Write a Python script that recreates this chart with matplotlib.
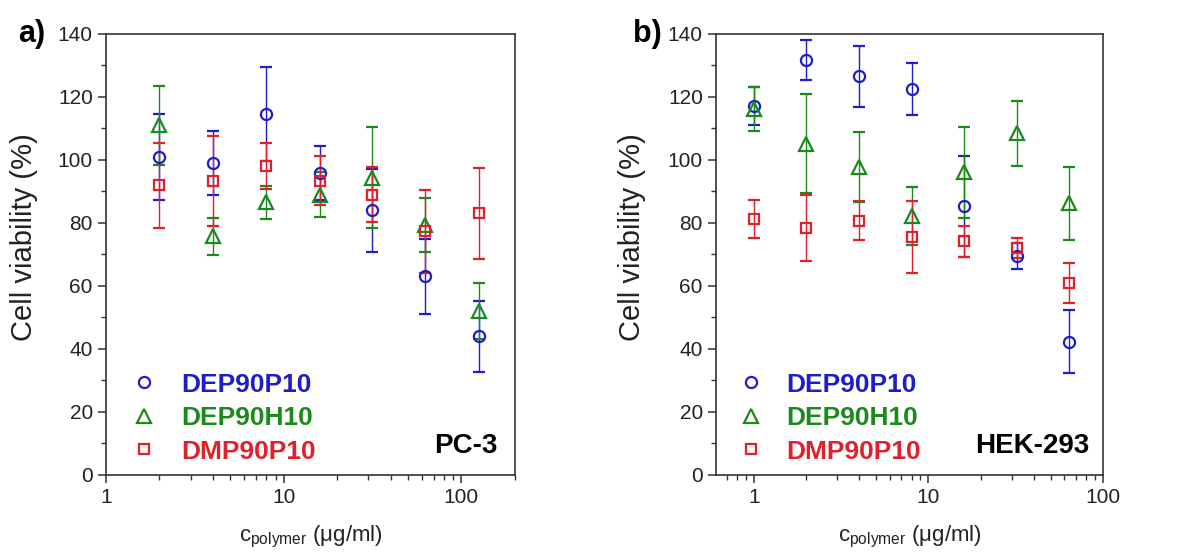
import matplotlib
matplotlib.use("Agg")
import matplotlib.pyplot as plt
from matplotlib.lines import Line2D
from matplotlib.ticker import MultipleLocator, FixedLocator, FixedFormatter

plt.rcParams["font.family"] = ["Liberation Sans", "DejaVu Sans"]
plt.rcParams["mathtext.fontset"] = "custom"
plt.rcParams["mathtext.rm"] = "Liberation Sans"

# panel a) PC-3
conc_a = [2, 4, 8, 16, 31.25, 62.5, 125]
dep_p_a = [101, 99, 114.5, 95.8, 84, 63, 44]
dep_p_a_err = [13.7, 10.3, 15, 8.5, 13.2, 12, 11.2]
dep_h_a = [111, 75.7, 86.5, 89, 94.3, 79.2, 52]
dep_h_a_err = [12.5, 6, 5.2, 7, 16, 8.6, 9]
dmp_p_a = [92, 93.3, 98, 93.4, 89, 77.3, 83]
dmp_p_a_err = [13.5, 14.4, 7.3, 7.7, 8.7, 13.2, 14.5]

# panel b) HEK-293
conc_b = [1, 2, 4, 8, 16, 32, 64]
dep_p_b = [117, 131.7, 126.5, 122.5, 85.3, 69.5, 42.2]
dep_p_b_err = [6, 6.4, 9.8, 8.2, 16, 4, 10]
dep_h_b = [116.2, 105.2, 97.7, 82.3, 96, 108.4, 86.2]
dep_h_b_err = [7, 15.7, 11.2, 9.2, 14.6, 10.3, 11.7]
dmp_p_b = [81.2, 78.4, 80.7, 75.4, 74.1, 72, 60.8]
dmp_p_b_err = [6.1, 10.6, 6.2, 11.4, 5, 3.1, 6.4]

names = ["DEP90P10", "DEP90H10", "DMP90P10"]
colors = ["#1e1ec8", "#1a8a1a", "#e0202a"]
markers = ["o", "^", "s"]
msizes = [8, 10, 7.3]

fig = plt.figure(figsize=(11.92, 5.56), dpi=100)
ax_a = fig.add_axes([0.0889, 0.146, 0.343, 0.793])
ax_b = fig.add_axes([0.6007, 0.146, 0.3247, 0.793])

panels = [
    (ax_a, conc_a, [(dep_p_a, dep_p_a_err), (dep_h_a, dep_h_a_err), (dmp_p_a, dmp_p_a_err)],
     (1, 200), "PC-3", "a)", 0.958, 0.054, 0.81, -0.166),
    (ax_b, conc_b, [(dep_p_b, dep_p_b_err), (dep_h_b, dep_h_b_err), (dmp_p_b, dmp_p_b_err)],
     (0.607, 100), "HEK-293", "b)", 0.964, 0.049, 0.73, -0.18),
]

for ax, conc, series, xlim, cell, tag, cx, lx, pad, ylx in panels:
    for (vals, errs), c, m, s in zip(series, colors, markers, msizes):
        ax.errorbar(conc, vals, yerr=errs, fmt=m, color=c, ecolor=c, mfc="none",
                    mec=c, mew=1.6, ms=s, elinewidth=1.0, capsize=4.5, capthick=1.0)
    ax.set_xscale("log")
    ax.set_xlim(*xlim)
    ax.set_ylim(0, 140)
    ax.yaxis.set_major_locator(MultipleLocator(20))
    ax.yaxis.set_minor_locator(MultipleLocator(10))
    ax.xaxis.set_major_locator(FixedLocator([1, 10, 100]))
    ax.xaxis.set_major_formatter(FixedFormatter(["1", "10", "100"]))
    ax.tick_params(which="both", direction="out", top=False, right=False,
                   labelsize=15, colors="#333333", labelcolor="#222222")
    ax.tick_params(which="major", length=6, width=1.1)
    ax.tick_params(which="minor", length=3.5, width=1.0)
    for sp in ax.spines.values():
        sp.set_color("#333333")
        sp.set_linewidth(1.2)
    ax.set_ylabel("Cell viability (%)", fontsize=21, color="#222222")
    ax.yaxis.set_label_coords(ylx, 0.54)
    ax.set_xlabel(r"c$_{\mathregular{polymer}}$ ($\mathregular{\mu}$g/ml)",
                  fontsize=16, color="#222222", labelpad=12)
    handles = [Line2D([], [], ls="none", marker=m, mfc="none", mec=c, mew=1.6, ms=s)
               for c, m, s in zip(colors, markers, msizes)]
    ax.legend(handles, names, loc="lower left", bbox_to_anchor=(lx, 0.0256), frameon=False,
              labelcolor=colors, prop={"weight": "bold", "size": 19},
              handletextpad=pad, labelspacing=0.36, handlelength=1.2,
              borderpad=0, borderaxespad=0)
    ax.text(cx, 0.035, cell, transform=ax.transAxes, ha="right", va="bottom",
            fontsize=20, fontweight="bold", color="black")
    ax.text(-0.215, 1.0, tag, transform=ax.transAxes, ha="left", va="center",
            fontsize=22, fontweight="bold", color="black")

fig.savefig("out.png", dpi=100)
